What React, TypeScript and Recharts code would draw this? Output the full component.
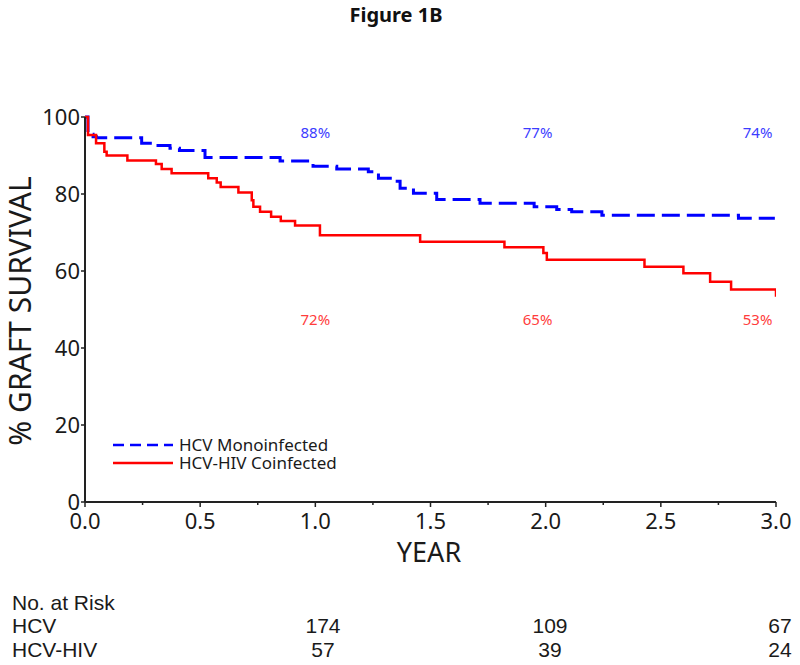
import React from 'react';
import { LineChart, Line, XAxis, YAxis, Legend, ReferenceDot } from 'recharts';

// ---- data ----
const hcvTimes = [0, 0.013, 0.035, 0.05, 0.246, 0.304, 0.369, 0.41, 0.521, 0.847, 0.99, 1.093, 1.23, 1.274, 1.339, 1.368, 1.426, 1.527, 1.715, 1.95, 2.048, 2.113, 2.244, 2.837, 2.995];
const hcvSurv = [100, 95.5, 94.9, 94.6, 93.2, 92.6, 91.9, 91.3, 89.5, 88.6, 87.2, 86.5, 85.8, 84.1, 83.3, 81.5, 80.2, 78.6, 77.6, 76.7, 76.0, 75.4, 74.5, 73.7, 73.7];

const hivTimes = [0, 0.013, 0.048, 0.084, 0.094, 0.184, 0.308, 0.333, 0.376, 0.535, 0.572, 0.589, 0.666, 0.724, 0.731, 0.76, 0.808, 0.85, 0.912, 1.02, 1.455, 1.821, 1.99, 2.005, 2.429, 2.598, 2.714, 2.805, 3.0];
const hivSurv = [100, 95.3, 93.2, 91.0, 90.0, 88.7, 87.8, 86.5, 85.4, 84.1, 83.0, 81.8, 80.4, 78.4, 76.7, 75.4, 74.1, 73.0, 71.8, 69.3, 67.6, 66.2, 64.7, 62.9, 61.1, 59.4, 57.2, 55.2, 53.3];

const seriesNames = ['HCV Monoinfected', 'HCV-HIV Coinfected'];
const seriesColors = ['#0000ff', '#ff0000'];
const seriesDash = ['18 7', undefined];
const legendDash = ['11 6', undefined];

const xTicks = [0, 0.25, 0.5, 0.75, 1, 1.25, 1.5, 1.75, 2, 2.25, 2.5, 2.75, 3];
const yTicks = [0, 20, 40, 60, 80, 100];

const hcvLabelX = [1.0, 1.965, 2.92];
const hcvLabelText = ['88%', '77%', '74%'];
const hcvLabelY = 96.1;
const hivLabelX = [1.0, 1.965, 2.92];
const hivLabelText = ['72%', '65%', '53%'];
const hivLabelY = 47.5;

const riskGroups = ['HCV', 'HCV-HIV'];
const riskHcv = ['174', '109', '67'];
const riskHiv = ['57', '39', '24'];
const riskX = [323, 550, 780];

const hcvData = hcvTimes.map((t, i) => ({ t, s: hcvSurv[i] }));
const hivData = hivTimes.map((t, i) => ({ t, s: hivSurv[i] }));

const TICK_FONT = '"Noto Sans", sans-serif';

const XTick = (props: any) => {
  const { x, y, payload } = props;
  const v = payload.value as number;
  const major = Math.abs(v * 2 - Math.round(v * 2)) < 1e-6;
  return (
    <g>
      <line x1={x} x2={x} y1={y} y2={y + (major ? 5 : 3)} stroke="#222" strokeWidth={1.5} />
      {major && (
        <text x={x} y={y + 27} textAnchor="middle" fontFamily={TICK_FONT} fontSize={22} fill="#1a1a1a">
          {v.toFixed(1)}
        </text>
      )}
    </g>
  );
};

const renderLegend = (props: any) => {
  const payload = (props && props.payload) || [];
  return (
    <svg width={320} height={48} style={{ display: 'block', overflow: 'visible' }}>
      {seriesNames.map((name, i) => {
        const entry = payload.find((p: any) => p.value === name);
        const color = entry ? entry.color : seriesColors[i];
        const y = 11 + i * 18;
        return (
          <g key={name}>
            <line x1={3} x2={63} y1={y} y2={y} stroke={color} strokeWidth={2.5} strokeDasharray={legendDash[i]} />
            <text x={69} y={y + 6} fontFamily={TICK_FONT} fontSize={17} fill="#1a1a1a">{name}</text>
          </g>
        );
      })}
    </svg>
  );
};

const pctLabel = (text: string, color: string) => (props: any) => (
  <text x={props.cx} y={props.cy} textAnchor="middle" dominantBaseline="central" fontFamily={TICK_FONT} fontSize={15} fill={color}>
    {text}
  </text>
);

export default function App() {
  return (
    <div style={{ position: 'absolute', left: 0, top: 0, width: 800, height: 665, background: '#fff', overflow: 'hidden' }}>
      <LineChart width={800} height={665} margin={{ top: 117, right: 24, bottom: 123, left: 25 }}>
        <XAxis
          dataKey="t"
          type="number"
          domain={[0, 3]}
          ticks={xTicks}
          interval={0}
          height={40}
          tickSize={0}
          tickMargin={0}
          tick={<XTick />}
          axisLine={{ stroke: '#222', strokeWidth: 2 }}
          tickLine={false}
          allowDataOverflow
        />
        <YAxis
          type="number"
          domain={[0, 100]}
          ticks={yTicks}
          interval={0}
          width={60}
          tickSize={4}
          tickMargin={1}
          tick={{ fontFamily: TICK_FONT, fontSize: 22, fill: '#1a1a1a' }}
          tickLine={{ stroke: '#222', strokeWidth: 1.5 }}
          axisLine={{ stroke: '#222', strokeWidth: 2 }}
        />
        <Line
          data={hcvData}
          dataKey="s"
          name={seriesNames[0]}
          type="stepAfter"
          stroke={seriesColors[0]}
          strokeWidth={3}
          strokeDasharray={seriesDash[0]}
          dot={false}
          activeDot={false}
          isAnimationActive={false}
        />
        <Line
          data={hivData}
          dataKey="s"
          name={seriesNames[1]}
          type="stepAfter"
          stroke={seriesColors[1]}
          strokeWidth={2.5}
          dot={false}
          activeDot={false}
          isAnimationActive={false}
        />
        {hcvLabelX.map((x, i) => (
          <ReferenceDot key={'h' + i} x={x} y={hcvLabelY} r={0} ifOverflow="visible" shape={pctLabel(hcvLabelText[i], '#3c3cff')} />
        ))}
        {hivLabelX.map((x, i) => (
          <ReferenceDot key={'v' + i} x={x} y={hivLabelY} r={0} ifOverflow="visible" shape={pctLabel(hivLabelText[i], '#ff3c3c')} />
        ))}
        <Legend
          layout="horizontal"
          align="center"
          verticalAlign="middle"
          content={renderLegend}
          wrapperStyle={{ position: 'absolute', left: 110, top: 434, width: 320, height: 48 }}
        />
      </LineChart>
      <svg width={800} height={665} style={{ position: 'absolute', left: 0, top: 0, pointerEvents: 'none' }}>
        <text x={396} y={22} textAnchor="middle" fontFamily={TICK_FONT} fontWeight="bold" fontSize={20} fill="#111">Figure 1B</text>
        <text transform="translate(31,311) rotate(-90)" textAnchor="middle" fontFamily={TICK_FONT} fontSize={30} fill="#1a1a1a">% GRAFT SURVIVAL</text>
        <text x={429} y={562} textAnchor="middle" fontFamily={TICK_FONT} fontSize={27} fill="#1a1a1a">YEAR</text>
        <g fontFamily='"Liberation Sans", Arial, sans-serif' fontSize={21} fill="#1a1a1a">
          <text x={12} y={610}>No. at Risk</text>
          <text x={12} y={633}>{riskGroups[0]}</text>
          <text x={12} y={657}>{riskGroups[1]}</text>
          {riskHcv.map((v, i) => (
            <text key={'a' + i} x={riskX[i]} y={633} textAnchor="middle">{v}</text>
          ))}
          {riskHiv.map((v, i) => (
            <text key={'b' + i} x={riskX[i]} y={657} textAnchor="middle">{v}</text>
          ))}
        </g>
      </svg>
    </div>
  );
}
